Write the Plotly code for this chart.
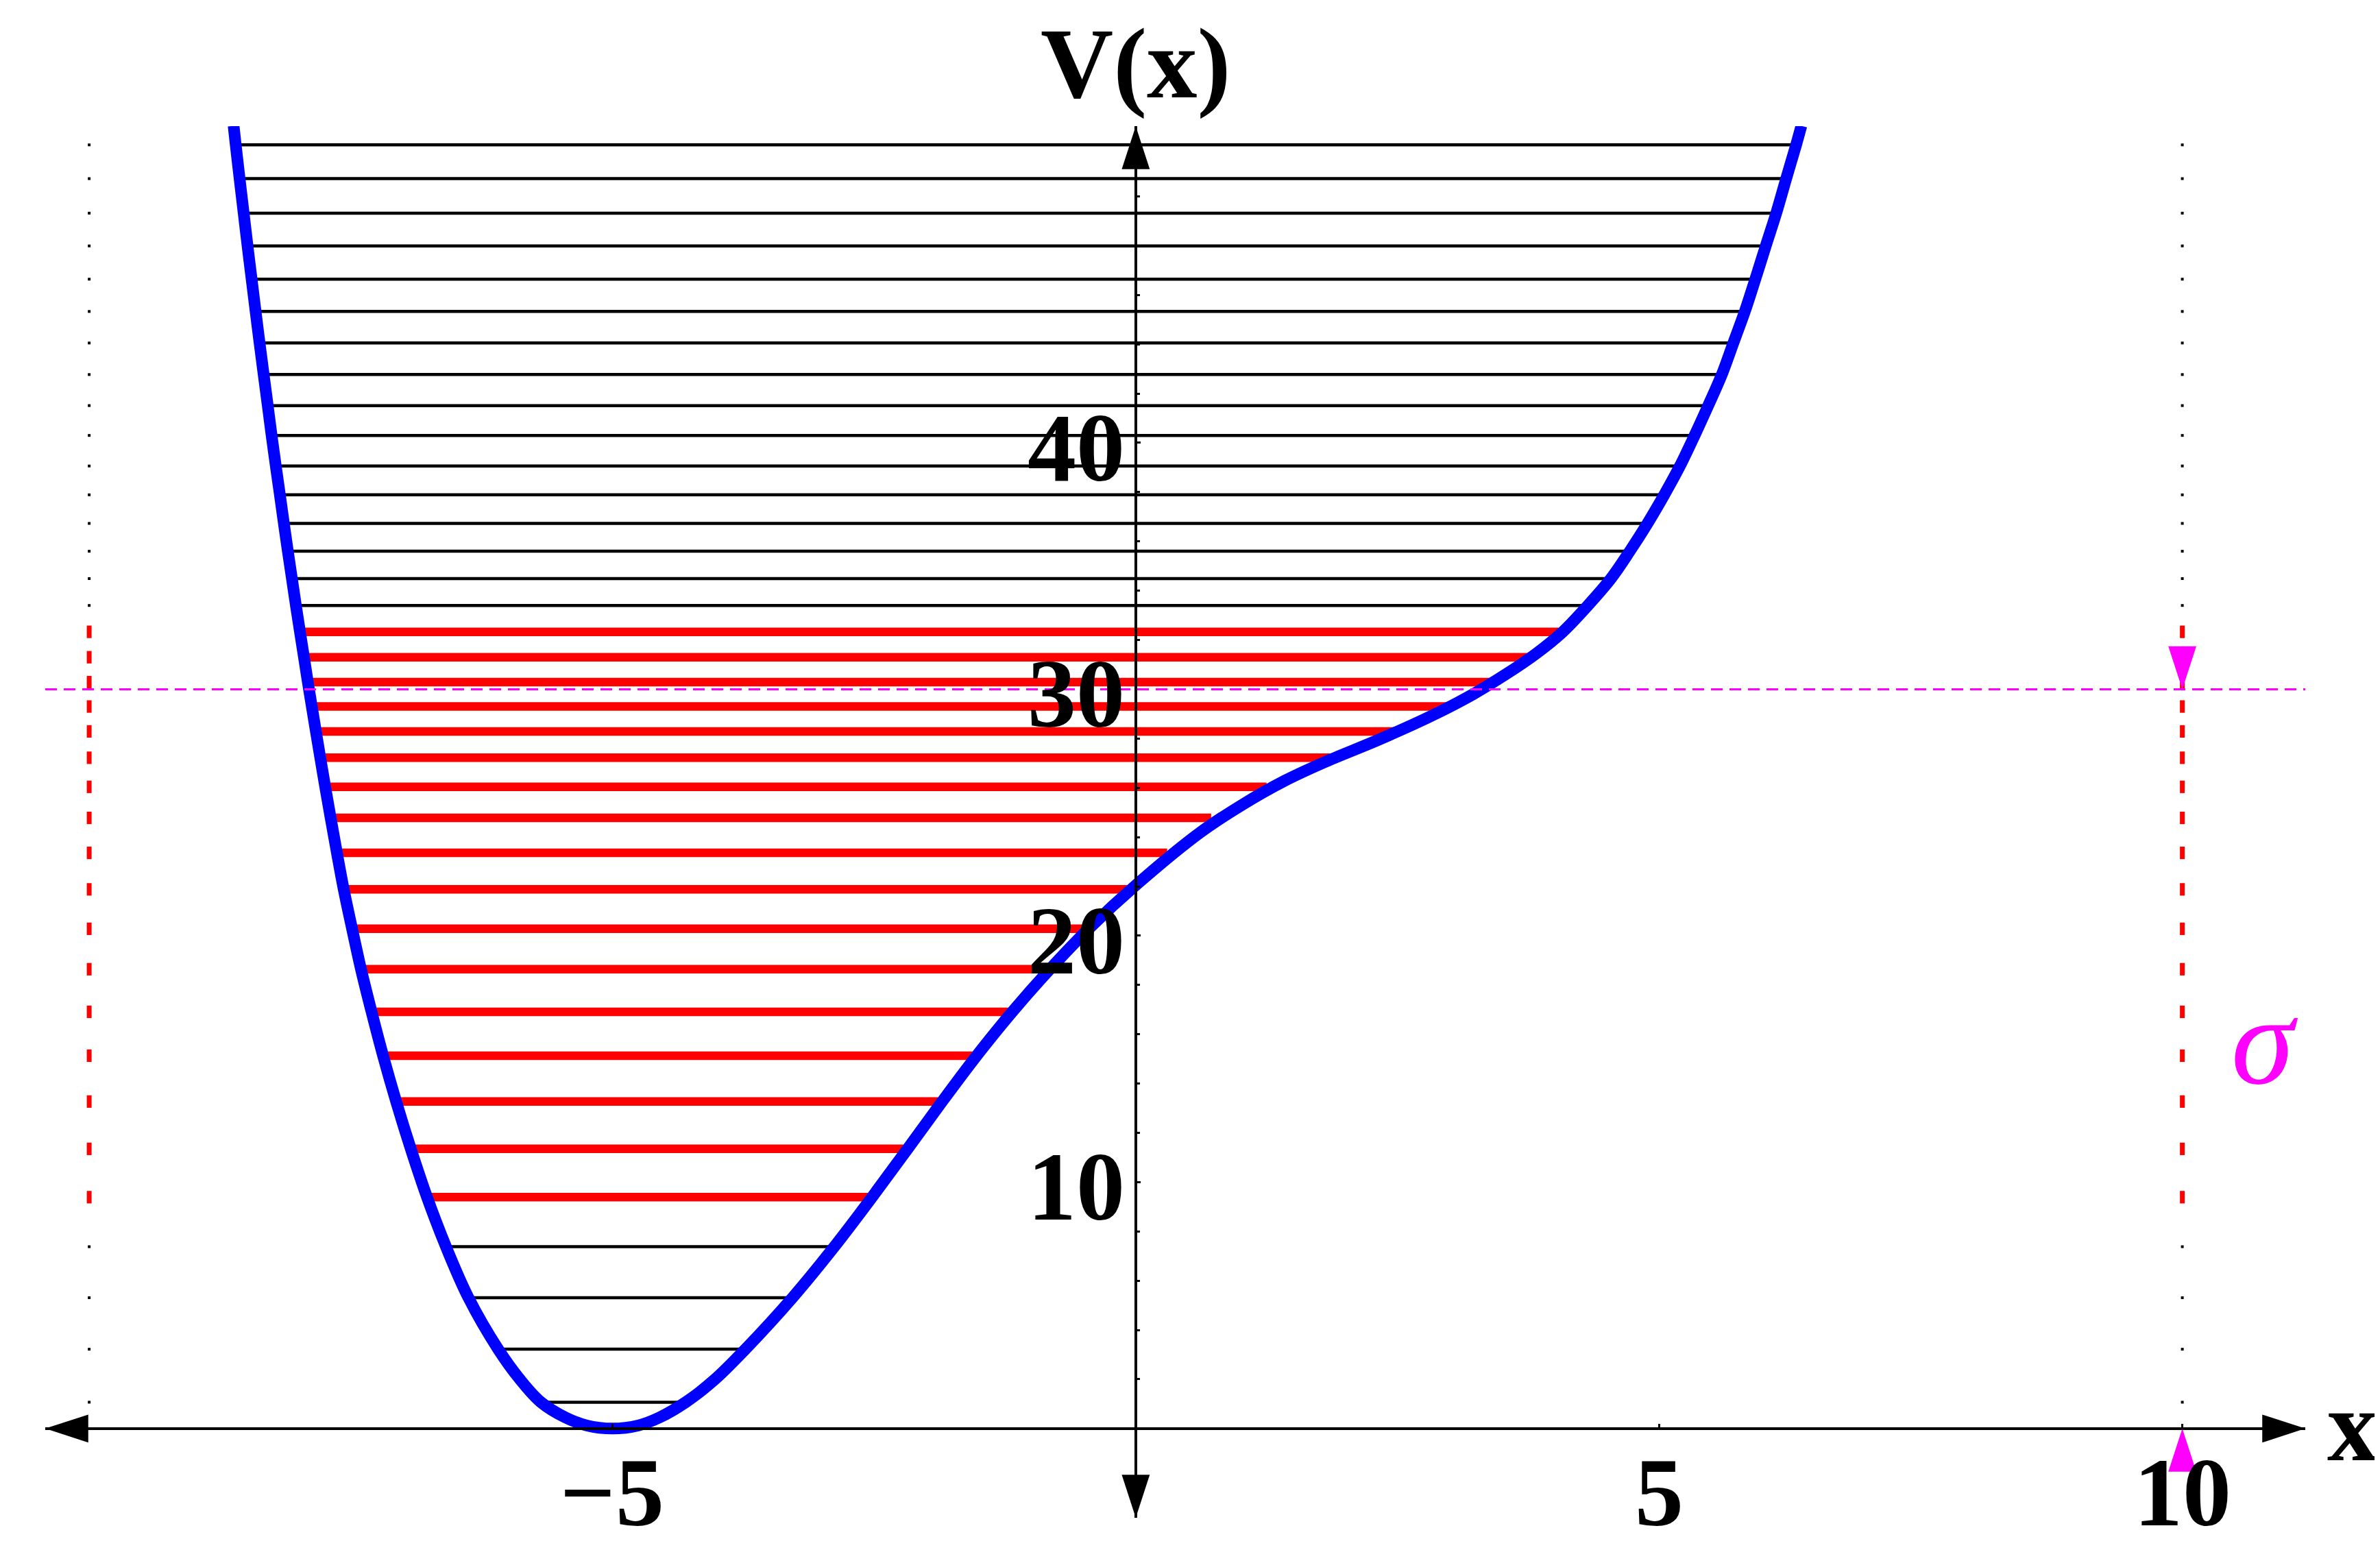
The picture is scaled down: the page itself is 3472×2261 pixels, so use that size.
import plotly.graph_objects as go

# ---------------- data ----------------
# potential curve V(x)
curve_x = [-8.620, -8.600, -8.563, -8.524, -8.487, -8.448, -8.410, -8.372, -8.333, -8.294,
           -8.257, -8.217, -8.178, -8.140, -8.102, -8.063, -8.025,
           -7.986, -7.948, -7.911, -7.873, -7.834, -7.792, -7.745, -7.693, -7.633, -7.568,
           -7.488, -7.403, -7.302, -7.192, -7.067, -6.927, -6.772,
           -6.591, -6.376, -6.092, -5.885, -5.684,
           -5.45, -5.25, -5.00, -4.75, -4.55,
           -4.30, -4.02, -3.73, -3.28, -2.88, -2.52, -2.18, -1.85, -1.52, -1.18, -0.82, -0.45,
           0.02, 0.62, 1.02, 1.42, 1.82, 2.32, 2.82, 3.22, 3.53, 3.83,
           4.08, 4.32, 4.54, 4.72, 4.89, 5.05, 5.20, 5.34, 5.47, 5.60, 5.71, 5.82, 5.92, 6.02,
           6.12, 6.215, 6.31, 6.36]
curve_v = [52.86, 52.09, 50.72, 49.32, 47.99, 46.64, 45.33, 44.05, 42.77, 41.51,
           40.30, 39.06, 37.89, 36.73, 35.60, 34.49, 33.40,
           32.33, 31.30, 30.29, 29.30, 28.29, 27.22, 26.04, 24.78, 23.36, 21.88,
           20.28, 18.64, 16.91, 15.13, 13.27, 11.35, 9.39,
           7.38, 5.31, 3.22, 2.00, 1.07,
           0.45, 0.13, 0.00, 0.13, 0.45,
           1.07, 2.00, 3.22, 5.31, 7.38, 9.39, 11.35, 13.27, 15.13, 16.91, 18.64, 20.28,
           22.12, 24.20, 25.32, 26.28, 27.07, 27.95, 28.91, 29.79, 30.59, 31.46,
           32.33, 33.40, 34.49, 35.60, 36.73, 37.89, 39.06, 40.30, 41.51, 42.77, 44.05, 45.33,
           46.64, 47.99, 49.32, 50.72, 52.09, 52.86]

# energy levels above the red band (black)
upper_E = [52.09, 50.72, 49.32, 47.99, 46.64, 45.33, 44.05, 42.77, 41.51, 40.30, 39.06, 37.89,
           36.73, 35.60, 34.49, 33.40]
upper_xl = [-8.580, -8.543, -8.504, -8.467, -8.428, -8.390, -8.352, -8.313, -8.274, -8.237,
            -8.197, -8.158, -8.120, -8.082, -8.043, -8.005]
upper_xr = [6.29, 6.19, 6.10, 6.00, 5.90, 5.80, 5.70, 5.57, 5.45, 5.32, 5.18, 5.03,
            4.87, 4.69, 4.50, 4.28]

# energy levels in the red band
red_E = [32.33, 31.30, 30.29, 29.30, 28.29, 27.22, 26.04, 24.78, 23.36, 21.88, 20.28, 18.64,
         16.91, 15.13, 13.27, 11.35, 9.39]
red_xl = [-7.966, -7.928, -7.891, -7.853, -7.814, -7.772, -7.725, -7.673, -7.613, -7.548,
          -7.468, -7.383, -7.282, -7.172, -7.047, -6.907, -6.752]
red_xr = [4.04, 3.76, 3.43, 2.98, 2.48, 1.88, 1.25, 0.72, 0.30, -0.08, -0.49, -0.86,
          -1.22, -1.56, -1.89, -2.22, -2.56]

# energy levels below the red band (black)
lower_E = [7.38, 5.31, 3.22, 1.07]
lower_xl = [-6.571, -6.356, -6.072, -5.664]
lower_xr = [-2.92, -3.31, -3.76, -4.34]

sigma_level = 30.0          # magenta dashed line
spectrum_x = [-10, 10]      # where the level spectrum is marked

x_tick_vals = [-5, 5, 10]
x_tick_text = ["\u22125", "5", "10"]
y_tick_vals = [10, 20, 30, 40]
y_tick_text = ["10", "20", "30", "40"]

x_range = [-10.42, 11.175]
y_range = [-3.62, 52.85]

# ---------------- figure ----------------
# the page body has an 8px margin, so the figure is 8px smaller than the window
W, H = 3464, 2253
SERIF = "Liberation Serif"


def segments(xl, xr, E):
    xs, ys = [], []
    for a, b, e in zip(xl, xr, E):
        xs += [a, b, None]
        ys += [e, e, None]
    return xs, ys


fig = go.Figure()

black_E = upper_E + lower_E
bx, by = segments(upper_xl + lower_xl, upper_xr + lower_xr, black_E)
fig.add_trace(go.Scatter(x=bx, y=by, mode="lines", line=dict(color="black", width=4.5),
                         hoverinfo="skip"))
rx, ry = segments(red_xl, red_xr, red_E)
fig.add_trace(go.Scatter(x=rx, y=ry, mode="lines", line=dict(color="#ff0000", width=12.5),
                         hoverinfo="skip"))

# spectrum stubs at x = -10 and x = 10
fig.add_trace(go.Scatter(
    x=[spectrum_x[0]] * len(black_E) + [spectrum_x[1]] * len(black_E),
    y=black_E * 2, mode="markers",
    marker=dict(symbol="square", size=4, color="black", line=dict(width=0)),
    hoverinfo="skip", cliponaxis=False))
fig.add_trace(go.Scatter(
    x=[spectrum_x[0]] * len(red_E) + [spectrum_x[1]] * len(red_E),
    y=red_E * 2, mode="markers",
    marker=dict(symbol="line-ns", size=13, color="#ff0000",
                line=dict(color="#ff0000", width=7)),
    hoverinfo="skip", cliponaxis=False))

# potential curve
fig.add_trace(go.Scatter(x=curve_x, y=curve_v, mode="lines",
                         line=dict(color="#0000ff", width=17, shape="spline", smoothing=1.0),
                         hoverinfo="skip"))

# magenta dashed line at sigma level
fig.add_shape(type="line", xref="paper", yref="y", x0=0, x1=1,
              y0=sigma_level, y1=sigma_level,
              line=dict(color="#ff00ff", width=3, dash="17px,10px"), layer="above")

# axis arrowheads
fig.add_trace(go.Scatter(
    x=[0, 0, x_range[0], x_range[1]], y=[y_range[1], y_range[0], 0, 0],
    mode="markers",
    marker=dict(symbol="arrow", size=66, color="black", angle=[0, 180, -90, 90],
                line=dict(width=0)),
    hoverinfo="skip", cliponaxis=False))
# magenta arrowheads marking sigma
fig.add_trace(go.Scatter(
    x=[spectrum_x[1], spectrum_x[1]], y=[sigma_level, 0],
    mode="markers",
    marker=dict(symbol="arrow", size=66, color="#ff00ff", angle=[180, 0],
                line=dict(width=0)),
    hoverinfo="skip", cliponaxis=False))

x_pos = (0 - y_range[0]) / (y_range[1] - y_range[0])
y_pos = (0 - x_range[0]) / (x_range[1] - x_range[0])

fig.update_xaxes(range=x_range, anchor="free", position=x_pos, showline=True,
                 linecolor="black", linewidth=3.5, showgrid=False, zeroline=False,
                 tickmode="array", tickvals=x_tick_vals, showticklabels=False,
                 ticks="inside", ticklen=5, tickwidth=2.5, tickcolor="black",
                 automargin=False)
fig.update_yaxes(range=y_range, anchor="free", position=y_pos, showline=True,
                 linecolor="black", linewidth=3.5, showgrid=False, zeroline=False,
                 tickmode="array", tickvals=y_tick_vals, showticklabels=False,
                 ticks="inside", ticklen=5, tickwidth=2.5, tickcolor="black",
                 minor=dict(dtick=2, ticks="inside", ticklen=4, tickwidth=2.5,
                            tickcolor="black"),
                 automargin=False)

lab_font = dict(family=SERIF, size=142, color="black", weight="bold")
for v, t in zip(x_tick_vals, x_tick_text):
    fig.add_annotation(text=t, x=v, y=0, xref="x", yref="y", showarrow=False,
                       xanchor="center", yanchor="middle", yshift=-93, font=lab_font)
for v, t in zip(y_tick_vals, y_tick_text):
    fig.add_annotation(text=t, x=0, y=v, xref="x", yref="y", showarrow=False,
                       xanchor="right", yanchor="middle", xshift=-14, yshift=-7,
                       font=lab_font)

fig.add_annotation(text="V(x)", xref="x", yref="paper", x=0, y=1.0450,
                   showarrow=False, xanchor="center", yanchor="middle",
                   font=dict(family=SERIF, size=147, color="black", weight="bold"))
fig.add_annotation(text="x", xref="paper", yref="y", x=1.0209, y=0.11,
                   showarrow=False, xanchor="center", yanchor="middle",
                   font=dict(family=SERIF, size=148, color="black", weight="bold"))
fig.add_annotation(text="\u03c3", xref="paper", yref="paper", x=0.9821, y=0.343,
                   showarrow=False, xanchor="center", yanchor="middle",
                   font=dict(family=SERIF, size=185, color="#ff00ff", style="italic"))

fig.update_layout(width=W, height=H, autosize=False,
                  margin=dict(l=58, r=109, t=176, b=47, pad=0),
                  paper_bgcolor="white", plot_bgcolor="white", showlegend=False)

fig.write_html("out.html")
